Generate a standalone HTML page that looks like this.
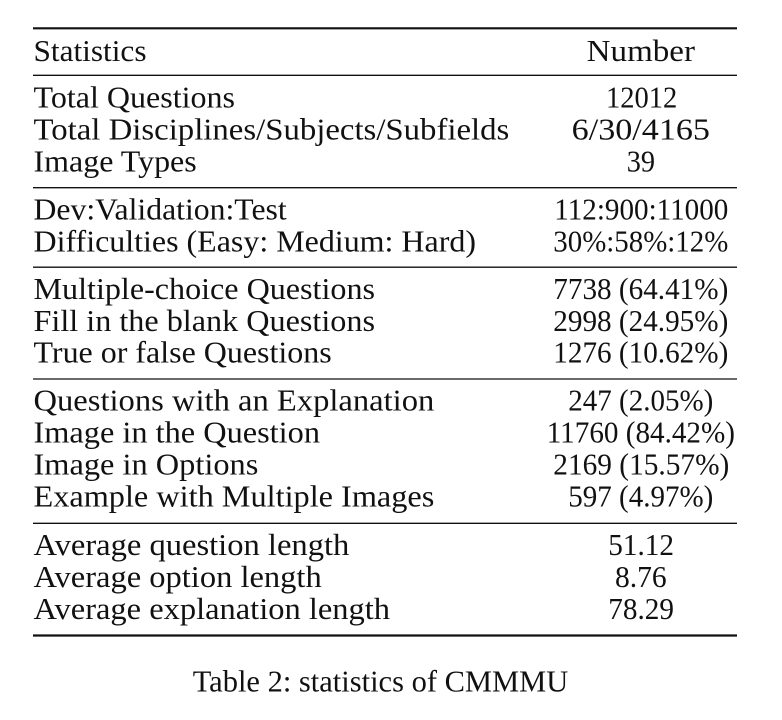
<!DOCTYPE html>
<html>
<head>
<meta charset="utf-8">
<style>
html,body{margin:0;padding:0;background:#fff;}
svg{display:block;}
text{font-family:"Liberation Serif",serif;font-size:31px;fill:#111;}
</style>
</head>
<body>
<svg width="782" height="720" viewBox="0 0 782 720" xmlns="http://www.w3.org/2000/svg">
<rect width="782" height="720" fill="#fff"/>
<g stroke="#111">
<line x1="33" y1="28.3" x2="737" y2="28.3" stroke-width="2.2"/>
<line x1="33" y1="75.3" x2="737" y2="75.3" stroke-width="1.3"/>
<line x1="33" y1="187.7" x2="737" y2="187.7" stroke-width="1.3"/>
<line x1="33" y1="267.2" x2="737" y2="267.2" stroke-width="1.3"/>
<line x1="33" y1="379" x2="737" y2="379" stroke-width="1.3"/>
<line x1="33" y1="523.3" x2="737" y2="523.3" stroke-width="1.3"/>
<line x1="33" y1="635.5" x2="737" y2="635.5" stroke-width="2.2"/>
</g>
<g lengthAdjust="spacingAndGlyphs">
<text x="33.5" y="61" textLength="113" lengthAdjust="spacingAndGlyphs">Statistics</text>
<text x="586.7" y="61" textLength="108.3" lengthAdjust="spacingAndGlyphs">Number</text>

<text x="33.5" y="107.3" textLength="201.5" lengthAdjust="spacingAndGlyphs">Total Questions</text>
<text x="33.5" y="139.5" textLength="475.8" lengthAdjust="spacingAndGlyphs">Total Disciplines/Subjects/Subfields</text>
<text x="33.5" y="171.7" textLength="163.2" lengthAdjust="spacingAndGlyphs">Image Types</text>
<text x="606" y="107.3" textLength="71.3" lengthAdjust="spacingAndGlyphs">12012</text>
<text x="571.7" y="139.5" textLength="138.3" lengthAdjust="spacingAndGlyphs">6/30/4165</text>
<text x="626.7" y="171.7" textLength="28.3" lengthAdjust="spacingAndGlyphs">39</text>

<text x="33.5" y="219.7" textLength="253.2" lengthAdjust="spacingAndGlyphs">Dev:Validation:Test</text>
<text x="33.5" y="251.5" textLength="442.5" lengthAdjust="spacingAndGlyphs">Difficulties (Easy: Medium: Hard)</text>
<text x="554.3" y="219.7" textLength="174" lengthAdjust="spacingAndGlyphs">112:900:11000</text>
<text x="553.3" y="251.5" textLength="175" lengthAdjust="spacingAndGlyphs">30%:58%:12%</text>

<text x="33.5" y="299" textLength="341.5" lengthAdjust="spacingAndGlyphs">Multiple-choice Questions</text>
<text x="33.5" y="330.8" textLength="341.5" lengthAdjust="spacingAndGlyphs">Fill in the blank Questions</text>
<text x="33.5" y="362.7" textLength="298.2" lengthAdjust="spacingAndGlyphs">True or false Questions</text>
<text x="553.3" y="299" textLength="175" lengthAdjust="spacingAndGlyphs">7738 (64.41%)</text>
<text x="553.3" y="330.8" textLength="175" lengthAdjust="spacingAndGlyphs">2998 (24.95%)</text>
<text x="553.3" y="362.7" textLength="175" lengthAdjust="spacingAndGlyphs">1276 (10.62%)</text>

<text x="33.5" y="410.3" textLength="400.8" lengthAdjust="spacingAndGlyphs">Questions with an Explanation</text>
<text x="33.5" y="442.5" textLength="286.5" lengthAdjust="spacingAndGlyphs">Image in the Question</text>
<text x="33.5" y="474.5" textLength="224.8" lengthAdjust="spacingAndGlyphs">Image in Options</text>
<text x="33.5" y="506.7" textLength="400.8" lengthAdjust="spacingAndGlyphs">Example with Multiple Images</text>
<text x="568.3" y="410.3" textLength="145" lengthAdjust="spacingAndGlyphs">247 (2.05%)</text>
<text x="546.7" y="442.5" textLength="188.3" lengthAdjust="spacingAndGlyphs">11760 (84.42%)</text>
<text x="553.3" y="474.5" textLength="176" lengthAdjust="spacingAndGlyphs">2169 (15.57%)</text>
<text x="568.3" y="506.7" textLength="145" lengthAdjust="spacingAndGlyphs">597 (4.97%)</text>

<text x="33.5" y="555" textLength="315.8" lengthAdjust="spacingAndGlyphs">Average question length</text>
<text x="33.5" y="587" textLength="288.2" lengthAdjust="spacingAndGlyphs">Average option length</text>
<text x="33.5" y="619" textLength="356.5" lengthAdjust="spacingAndGlyphs">Average explanation length</text>
<text x="608.3" y="555" textLength="65.7" lengthAdjust="spacingAndGlyphs">51.12</text>
<text x="615" y="587" textLength="51.7" lengthAdjust="spacingAndGlyphs">8.76</text>
<text x="608.3" y="619" textLength="65.7" lengthAdjust="spacingAndGlyphs">78.29</text>

<text x="192.7" y="691.7" textLength="375.6" lengthAdjust="spacingAndGlyphs">Table 2: statistics of CMMMU</text>
</g>
</svg>
</body>
</html>
